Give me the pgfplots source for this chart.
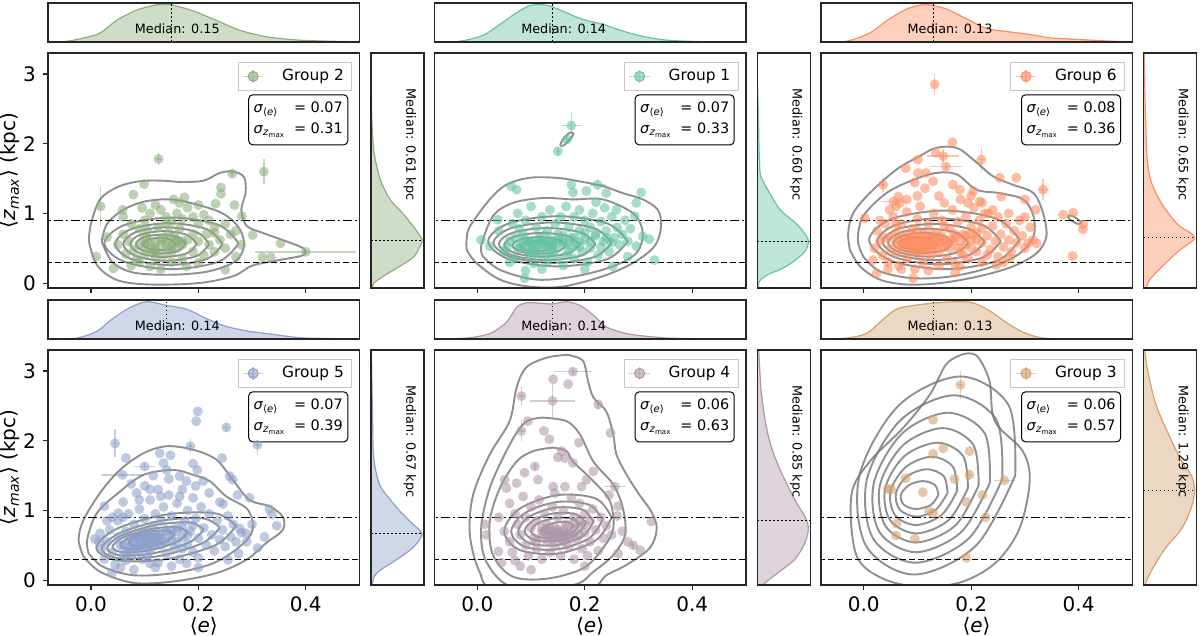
\documentclass[border=0pt]{standalone}
\usepackage{fontspec}
\setmainfont{DejaVu Sans}
\usepackage{pgfplots}
\pgfplotsset{compat=1.18}
\usepackage{pgfplotstable}

\definecolor{cA}{HTML}{8CAF7C}
\definecolor{cB}{HTML}{66C2A5}
\definecolor{cC}{HTML}{FC8D62}
\definecolor{cD}{HTML}{8DA0CB}
\definecolor{cE}{HTML}{B096A8}
\definecolor{cF}{HTML}{D2A06E}

\tikzset{
 medt/.style={font=\fontsize{6.4}{7}\selectfont, inner sep=0pt},
 sig/.style={draw=black, line width=0.5pt, rounded corners=2pt, fill=white, anchor=north east, inner xsep=2.5pt, inner ysep=3pt, font=\fontsize{7.2}{8.5}\selectfont},
}
\pgfplotsset{
 base/.style={scale only axis, anchor=south west, axis on top, axis line style={line width=0.75pt, black!85}, clip=true},
 mainax/.style={base, width=155.75pt, height=117.5pt, xmin=-0.08, xmax=0.5, ymin=-0.07, ymax=3.3,
   xtick={0,0.2,0.4}, ytick={0,1,2,3}, xticklabels={}, yticklabels={}, tick align=outside,
   major tick length=2.5pt, tick style={line width=0.6pt, black!85}, xtick pos=left, ytick pos=left,
   tick label style={font=\fontsize{10}{12}\selectfont}, label style={font=\fontsize{10}{12}\selectfont},
   every axis y label/.style={at={(axis description cs:0,0.5)}, xshift=-18.8pt, rotate=90, anchor=center},
   every axis x label/.style={at={(axis description cs:0.5,0)}, yshift=-20.5pt, anchor=center},
   legend style={at={(0.977,0.963)}, anchor=north east, draw=black!22, line width=0.5pt, font=\fontsize{7.7}{9}\selectfont, inner xsep=2pt, inner ysep=1.5pt}},
 labx/.style={xticklabels={0.0,0.2,0.4}, xlabel={⟨\textit{e}⟩}},
 laby/.style={yticklabels={0,1,2,3}, ylabel={⟨\textit{z}\textsubscript{\textit{max}}⟩ (kpc)}},
 noy/.style={ytick=\empty},
 topm/.style={base, width=155.75pt, height=19.5pt, xmin=-0.08, xmax=0.5, ymin=0, ymax=1.04, xtick=\empty, ytick=\empty},
 rightm/.style={base, width=26.5pt, height=117.5pt, xmin=0, xmax=1.04, ymin=-0.07, ymax=3.3, xtick=\empty, ytick=\empty},
 mfill/.style={no marks, smooth, fill=#1, fill opacity=0.42, draw=#1, line width=0.6pt},
 medl/.style={no marks, black, line width=0.6pt, dash pattern=on 0.8pt off 1.2pt},
 scP/.style={only marks, mark=*, mark size=2.5pt, color=#1, mark options={fill=#1, fill opacity=0.58, draw opacity=0}},
 scE/.style={only marks, mark=*, mark size=2.5pt, color=#1, mark options={fill=#1, fill opacity=0.58, draw opacity=0},
   legend image code/.code={\draw[#1, line width=0.8pt, draw opacity=0.5] (0cm,0cm) -- (0.36cm,0cm) (0.18cm,-0.12cm) -- (0.18cm,0.12cm); \fill[#1, fill opacity=0.6] (0.18cm,0cm) circle (2.5pt);},
   error bars/.cd, x dir=both, x explicit, y dir=both, y explicit, error mark=none, error bar style={#1, line width=0.8pt, draw opacity=0.5}},
 cont/.style={no marks, smooth, tension=0.55, black!55, line width=0.95pt, draw opacity=0.8},
 hda/.style={no marks, black, line width=0.6pt, dash pattern=on 4.5pt off 1.5pt on 1pt off 1.5pt},
 hds/.style={no marks, black, line width=0.6pt, dash pattern=on 3pt off 1.5pt},
}
\newcommand{\reflines}{\addplot[hda] coordinates {(-0.1,0.9) (0.6,0.9)};\addplot[hds] coordinates {(-0.1,0.3) (0.6,0.3)};}
\newcommand{\sigbox}[2]{\begin{tabular}{@{}l@{\hspace{4pt}}l@{}}\textit{σ}\textsubscript{⟨\textit{e}⟩} & = #1\\[2pt]\textit{σ}\textsubscript{\textit{z}\textsubscript{max}} & = #2\end{tabular}}

% ---------------- Group 2 ----------------
\pgfplotstableread{
x y ex ey
0.126 1.78 0.004 0.08
0.322 1.60 0.004 0.18
0.018 1.10 0.004 0.28
0.400 0.45 0.094 0.02
0.263 1.57 0.004 0.05
}\gAo
\pgfplotstableread{
x y
0.099 1.42
0.079 1.27
0.059 1.05
0.242 1.37
0.242 1.28
0.154 1.20
0.174 1.23
0.165 1.15
0.267 1.12
0.232 1.14
0.281 0.96
0.301 0.69
0.353 0.57
0.319 0.37
0.335 0.37
0.010 0.38
0.030 0.66
0.042 0.21
0.110 0.24
0.178 0.24
0.250 0.19
0.200 0.29
0.270 0.38
0.06 0.95
0.075 0.85
0.09 0.78
0.1 0.9
0.11 1.0
0.12 1.12
0.13 1.05
0.14 0.95
0.15 0.88
0.16 1.0
0.17 0.92
0.18 1.08
0.19 0.95
0.2 0.85
0.21 0.98
0.22 0.9
0.23 0.8
0.25 0.85
0.26 0.7
0.27 0.75
0.24 0.62
0.22 0.55
0.2 0.6
0.19 0.7
0.18 0.62
0.17 0.55
0.16 0.5
0.15 0.45
0.14 0.55
0.13 0.62
0.12 0.5
0.11 0.58
0.1 0.65
0.09 0.55
0.08 0.48
0.07 0.6
0.06 0.7
0.05 0.55
0.065 0.42
0.085 0.35
0.1 0.42
0.12 0.35
0.135 0.4
0.15 0.3
0.17 0.35
0.19 0.45
0.21 0.4
0.23 0.45
0.25 0.5
0.28 0.55
0.105 0.75
0.125 0.8
0.145 0.72
0.165 0.78
0.09 0.3
0.075 0.25
0.13 0.2
0.16 0.62
0.115 0.45
0.14 0.85
0.155 0.6
0.095 1.08
0.2 1.12
0.215 0.7
0.23 0.72
0.1 0.55
0.11 0.5
0.12 0.58
0.13 0.55
0.14 0.6
0.15 0.52
0.16 0.58
0.17 0.6
0.12 0.45
0.135 0.65
0.145 0.48
0.105 0.62
0.155 0.68
}\gAc

% ---------------- Group 1 ----------------
\pgfplotstableread{
x y ex ey
0.175 2.26 0.019 0.20
0.167 2.06 0.005 0.05
0.150 1.89 0.004 0.05
0.224 1.41 0.015 0.08
}\gBo
\pgfplotstableread{
x y
0.063 1.39
0.073 1.34
0.203 1.32
0.175 1.41
0.178 1.30
0.24 1.29
0.305 1.30
0.296 1.15
0.32 0.63
0.33 0.33
0.252 0.24
0.088 0.07
0.007 0.62
0.023 0.53
0.038 0.91
0.221 1.16
0.237 1.08
0.259 1.05
0.293 0.96
0.308 0.67
0.296 0.53
0.28 0.38
0.04 0.75
0.05 0.45
0.06 0.6
0.065 0.85
0.07 0.35
0.075 1.0
0.08 0.5
0.085 0.7
0.09 0.9
0.095 0.4
0.1 0.6
0.1 1.1
0.105 0.28
0.11 0.5
0.11 0.8
0.115 0.65
0.12 0.95
0.12 0.4
0.125 0.55
0.13 0.75
0.13 0.3
0.135 1.05
0.14 0.6
0.14 0.45
0.145 0.85
0.15 0.35
0.15 0.7
0.155 0.95
0.16 0.55
0.16 0.25
0.165 1.1
0.17 0.8
0.17 0.45
0.175 0.65
0.18 0.95
0.18 0.35
0.185 0.55
0.19 0.75
0.19 1.05
0.195 0.45
0.2 0.62
0.2 0.9
0.205 0.3
0.21 0.8
0.21 0.5
0.215 1.0
0.22 0.68
0.225 0.4
0.23 0.88
0.235 0.6
0.24 0.75
0.245 0.45
0.25 0.95
0.255 0.65
0.26 0.8
0.265 0.55
0.27 0.7
0.275 0.9
0.28 0.6
0.285 0.78
0.12 0.2
0.09 0.18
0.2 0.2
0.06 0.3
0.1 0.45
0.13 0.52
0.105 0.55
0.118 0.58
0.095 0.52
0.14 0.5
0.16 0.68
0.125 0.68
0.085 0.6
0.15 0.58
0.108 0.42
0.135 0.38
0.175 0.52
0.19 0.6
0.165 0.4
0.2 0.72
0.23 0.52
0.25 0.58
0.07 0.65
0.055 0.52
0.078 0.78
0.08 0.55
0.09 0.5
0.1 0.58
0.11 0.52
0.12 0.6
0.13 0.58
0.14 0.55
0.15 0.62
0.095 0.6
0.105 0.48
0.115 0.62
0.125 0.5
0.135 0.62
0.145 0.48
0.16 0.6
0.17 0.58
0.18 0.65
0.09 0.62
0.075 0.5
0.19 0.52
0.21 0.6
0.22 0.7
0.24 0.65
}\gBc

% ---------------- Group 6 ----------------
\pgfplotstableread{
x y ex ey
0.132 2.85 0.004 0.15
0.148 1.82 0.030 0.10
0.219 1.77 0.004 0.18
0.153 1.67 0.030 0.05
0.036 1.41 0.004 0.10
0.334 1.34 0.010 0.15
0.055 1.17 0.025 0.02
}\gCo
\pgfplotstableread{
x y
0.165 2.02
0.134 1.87
0.101 1.77
0.078 1.65
0.101 1.58
0.116 1.58
0.253 1.51
0.284 1.51
0.256 1.24
0.30 1.20
0.32 1.05
0.371 0.98
0.39 1.01
0.409 0.84
0.408 0.77
0.389 0.39
0.322 0.57
0.306 0.57
0.002 0.93
0.017 0.33
0.024 0.14
0.092 0.07
0.179 0.24
0.247 0.26
0.272 0.36
0.095 1.44
0.114 1.36
0.129 1.46
0.166 1.41
0.179 1.34
0.194 1.15
0.216 1.17
0.232 1.0
0.204 1.32
0.064 1.24
0.048 1.05
0.067 1.15
0.02 0.5
0.025 0.75
0.03 0.6
0.035 0.4
0.04 0.85
0.045 0.3
0.05 0.65
0.05 0.5
0.055 0.95
0.06 0.42
0.06 0.72
0.065 0.25
0.07 0.58
0.07 0.85
0.075 0.48
0.08 1.02
0.08 0.35
0.085 0.65
0.09 0.78
0.09 0.5
0.095 0.2
0.1 0.6
0.1 0.92
0.1 0.42
0.105 1.1
0.11 0.7
0.11 0.3
0.115 0.52
0.12 0.85
0.12 0.62
0.125 0.4
0.13 1.0
0.13 0.55
0.135 0.72
0.14 0.25
0.14 0.45
0.145 0.9
0.15 0.62
0.15 1.15
0.155 0.35
0.16 0.78
0.16 0.5
0.165 1.05
0.17 0.65
0.17 0.28
0.175 0.88
0.18 0.45
0.18 1.2
0.185 0.7
0.19 0.55
0.19 0.95
0.195 0.35
0.2 0.8
0.2 0.62
0.205 1.08
0.21 0.45
0.21 0.72
0.215 0.9
0.22 0.3
0.22 0.58
0.225 1.0
0.23 0.68
0.235 0.48
0.24 0.82
0.245 0.6
0.25 0.38
0.25 0.95
0.255 0.7
0.26 0.52
0.265 0.85
0.27 0.62
0.275 0.45
0.28 0.75
0.285 0.58
0.29 0.9
0.295 0.68
0.3 0.5
0.31 0.8
0.315 0.62
0.085 0.55
0.095 0.62
0.105 0.5
0.115 0.6
0.125 0.5
0.09 0.68
0.11 0.45
0.13 0.62
0.075 0.62
0.14 0.6
0.12 0.7
0.1 0.75
0.065 0.55
0.155 0.55
0.165 0.6
0.175 0.5
0.145 0.68
0.06 0.85
0.04 0.65
0.03 0.9
0.2 0.5
0.23 0.4
0.26 0.3
0.12 0.18
0.07 0.2
0.17 0.15
0.045 0.2
0.15 0.82
0.185 0.4
0.24 1.05
0.27 1.0
0.3 0.95
0.1 1.25
0.14 1.25
0.06 1.1
0.2 1.25
0.22 1.15
0.08 1.2
0.07 0.52
0.08 0.58
0.09 0.55
0.1 0.52
0.11 0.62
0.12 0.58
0.13 0.55
0.14 0.65
0.085 0.62
0.095 0.48
0.105 0.66
0.115 0.55
0.125 0.65
0.135 0.5
0.145 0.58
0.16 0.62
0.17 0.7
0.18 0.6
0.19 0.68
0.075 0.7
0.065 0.62
0.1 0.58
0.11 0.5
0.12 0.48
0.13 0.68
0.15 0.52
0.2 0.7
0.21 0.62
0.22 0.78
0.09 0.45
}\gCc

% ---------------- Group 5 ----------------
\pgfplotstableread{
x y ex ey
0.045 1.96 0.004 0.20
0.310 1.94 0.004 0.15
0.185 1.92 0.004 0.10
0.252 2.19 0.004 0.07
0.059 1.51 0.040 0.03
0.100 1.63 0.020 0.05
}\gDo
\pgfplotstableread{
x y
0.199 2.42
0.196 2.28
0.128 1.82
0.148 1.79
0.065 1.75
0.19 1.67
0.198 1.58
0.135 1.68
0.116 1.50
0.141 1.58
0.244 1.75
0.258 1.49
0.264 1.44
0.209 1.42
0.178 1.42
0.165 1.49
0.295 1.18
0.273 1.22
0.246 1.09
0.332 1.02
0.337 0.94
0.346 0.78
0.323 0.62
0.31 0.46
0.289 0.67
0.277 0.74
0.255 0.29
0.178 0.24
0.11 0.24
0.039 0.10
0.017 0.67
0.007 0.59
0.025 1.06
0.051 0.96
0.02 0.45
0.025 0.3
0.03 0.55
0.035 0.72
0.04 0.4
0.045 0.22
0.05 0.62
0.05 0.85
0.055 0.5
0.06 0.35
0.06 1.12
0.065 0.7
0.07 0.55
0.07 0.95
0.075 0.42
0.08 0.15
0.08 0.8
0.085 0.62
0.085 1.25
0.09 0.5
0.09 1.02
0.095 0.3
0.1 0.7
0.1 0.88
0.1 1.35
0.105 0.55
0.11 0.42
0.11 1.15
0.115 0.78
0.12 0.62
0.12 0.95
0.125 0.25
0.125 1.3
0.13 0.5
0.13 0.85
0.135 1.05
0.14 0.68
0.14 0.38
0.145 1.22
0.15 0.58
0.15 0.92
0.155 0.45
0.16 0.75
0.16 1.1
0.165 0.3
0.17 0.62
0.17 1.3
0.175 0.85
0.18 0.52
0.18 1.0
0.185 0.7
0.19 0.4
0.19 1.18
0.195 0.88
0.2 0.6
0.2 0.32
0.205 1.05
0.21 0.75
0.215 0.5
0.22 0.95
0.22 1.25
0.225 0.65
0.23 0.42
0.235 0.85
0.24 0.58
0.24 1.12
0.245 0.72
0.25 0.48
0.255 0.92
0.26 0.62
0.265 0.8
0.27 0.55
0.275 0.38
0.28 0.68
0.29 0.55
0.3 0.8
0.07 0.62
0.08 0.52
0.09 0.6
0.1 0.5
0.11 0.6
0.12 0.55
0.095 0.68
0.105 0.62
0.115 0.5
0.13 0.65
0.085 0.45
0.075 0.35
0.065 0.28
0.105 0.35
0.14 0.55
0.15 0.72
0.16 0.55
0.17 0.45
0.055 0.18
0.04 0.9
0.03 0.85
0.015 0.55
0.12 0.18
0.15 0.2
0.2 0.18
0.06 0.9
0.09 1.15
0.13 1.2
0.165 1.2
0.195 1.35
0.075 1.38
0.145 1.45
0.11 1.3
0.06 0.5
0.07 0.45
0.08 0.58
0.09 0.55
0.1 0.6
0.11 0.65
0.12 0.68
0.13 0.6
0.14 0.72
0.08 0.45
0.1 0.55
0.115 0.58
0.125 0.62
0.09 0.42
0.105 0.48
0.135 0.55
0.15 0.65
0.16 0.7
0.17 0.75
0.065 0.4
0.095 0.65
0.12 0.5
0.18 0.65
0.19 0.78
}\gDc

% ---------------- Group 4 ----------------
\pgfplotstableread{
x y ex ey
0.178 2.99 0.035 0.05
0.082 2.64 0.004 0.15
0.082 2.14 0.004 0.15
0.140 2.57 0.042 0.24
0.225 2.52 0.004 0.07
0.107 1.63 0.004 0.05
0.256 1.34 0.020 0.02
0.290 0.50 0.004 0.05
}\gEo
\pgfplotstableread{
x y
0.169 2.81
0.141 2.88
0.094 2.28
0.124 2.14
0.134 2.02
0.189 1.97
0.248 2.11
0.157 1.85
0.163 1.75
0.15 1.76
0.178 1.68
0.088 1.54
0.113 1.44
0.051 1.44
0.054 1.32
0.073 1.39
0.216 1.56
0.203 1.44
0.262 1.06
0.245 1.22
0.324 0.84
0.303 0.43
0.262 0.38
0.014 0.80
0.017 0.65
0.039 0.41
0.141 1.34
0.144 1.25
0.163 1.34
0.194 1.34
0.175 1.18
0.06 1.1
0.07 0.95
0.075 0.8
0.08 0.65
0.085 1.2
0.09 0.5
0.09 0.9
0.095 0.35
0.1 0.75
0.1 1.05
0.105 0.6
0.11 0.85
0.11 0.45
0.115 1.15
0.12 0.7
0.12 0.3
0.125 0.95
0.13 0.55
0.13 0.8
0.135 0.4
0.14 1.05
0.14 0.65
0.145 0.5
0.15 0.9
0.15 0.72
0.155 0.35
0.16 0.6
0.16 1.0
0.165 0.8
0.17 0.48
0.175 0.68
0.18 0.9
0.18 0.3
0.185 0.58
0.19 0.78
0.19 1.1
0.195 0.45
0.2 0.68
0.2 0.95
0.205 0.35
0.21 0.85
0.21 0.55
0.215 1.02
0.22 0.72
0.225 0.42
0.23 0.9
0.235 0.6
0.24 0.78
0.25 0.65
0.26 0.92
0.27 0.7
0.28 0.55
0.12 0.62
0.13 0.65
0.14 0.58
0.15 0.62
0.16 0.55
0.125 0.7
0.135 0.75
0.145 0.62
0.155 0.68
0.165 0.62
0.11 0.55
0.17 0.62
0.18 0.72
0.19 0.65
0.06 0.55
0.065 0.4
0.07 0.28
0.05 0.7
0.08 0.2
0.1 0.15
0.2 0.2
0.04 0.9
0.045 0.25
0.12 0.75
0.13 0.72
0.14 0.7
0.15 0.68
0.16 0.72
0.17 0.78
0.18 0.82
0.19 0.85
0.2 0.8
0.135 0.62
0.145 0.75
0.155 0.6
0.165 0.68
0.175 0.62
}\gEc

% ---------------- Group 3 ----------------
\pgfplotstableread{
x y ex ey
0.180 2.80 0.004 0.20
0.197 1.51 0.004 0.08
0.262 1.43 0.020 0.02
}\gFo
\pgfplotstableread{
x y
0.129 2.30
0.148 1.89
0.129 1.81
0.197 1.85
0.169 1.45
0.078 1.46
0.045 1.31
0.051 1.30
0.11 1.26
0.221 1.22
0.191 1.12
0.122 0.99
0.129 0.96
0.227 0.90
0.061 0.81
0.06 0.64
0.095 0.59
0.191 0.32
}\gFc

\begin{document}
\begin{tikzpicture}
\useasboundingbox (0,0) rectangle (600pt,318pt);

% ===== Panel Group 2 (row 1, col 1) =====
\begin{axis}[topm, at={(24pt,297pt)}]
\addplot[mfill=cA] coordinates {(-0.08,0.005) (-0.044,0.02) (-0.01,0.12) (0.017,0.24) (0.048,0.58) (0.07,0.75) (0.091,0.88) (0.122,0.99) (0.14,1.0) (0.153,0.98) (0.19,0.83) (0.233,0.58) (0.276,0.32) (0.326,0.14) (0.387,0.05) (0.449,0.02) (0.5,0.005)} \closedcycle;
\addplot[medl] coordinates {(0.15,0) (0.15,1.1)};
\node[medt] at (rel axis cs:0.415,0.34) {Median: 0.15};
\end{axis}
\begin{axis}[rightm, at={(185.6pt,174pt)}]
\addplot[mfill=cA] coordinates {(0,-0.07) (0.02,-0.07) (0.05,0.0) (0.24,0.1) (0.56,0.24) (0.84,0.38) (0.97,0.55) (1.0,0.62) (0.87,0.77) (0.62,1.0) (0.37,1.2) (0.18,1.48) (0.08,1.77) (0.05,1.9) (0.02,2.2) (0.005,2.6) (0.0,3.3)};
\addplot[medl] coordinates {(0,0.61) (1.1,0.61)};
\node[medt, rotate=-90] at (rel axis cs:0.73,0.61) {Median: 0.61 kpc};
\end{axis}
\begin{axis}[mainax, laby, at={(24pt,174pt)}]
\addplot[scE=cA] table[x=x, y=y, x error=ex, y error=ey] {\gAo}; \addlegendentry{\hspace{7pt}Group 2}
\addplot[scP=cA] table {\gAc};
\addplot[cont] coordinates {(-0.004,0.60) (0.0,0.85) (0.017,1.2) (0.05,1.38) (0.09,1.46) (0.13,1.47) (0.17,1.45) (0.21,1.47) (0.24,1.58) (0.265,1.60) (0.285,1.52) (0.288,1.30) (0.28,1.05) (0.29,0.82) (0.32,0.72) (0.356,0.62) (0.395,0.50) (0.395,0.40) (0.35,0.33) (0.30,0.25) (0.265,0.10) (0.2,0.0) (0.11,-0.02) (0.05,0.04) (0.012,0.25) (-0.004,0.60)};
\addplot[cont] coordinates {(0.02,0.6) (0.03,0.85) (0.06,1.05) (0.1,1.17) (0.15,1.2) (0.2,1.12) (0.245,1.0) (0.275,0.8) (0.285,0.55) (0.27,0.32) (0.22,0.17) (0.15,0.12) (0.08,0.15) (0.04,0.3) (0.02,0.6)};
\addplot[cont] coordinates {(0.275,0.57) (0.238,0.832) (0.15,0.94) (0.062,0.832) (0.025,0.57) (0.062,0.308) (0.15,0.20) (0.238,0.308) (0.275,0.57)};
\addplot[cont] coordinates {(0.245,0.56) (0.216,0.772) (0.145,0.86) (0.074,0.772) (0.045,0.56) (0.074,0.348) (0.145,0.26) (0.216,0.348) (0.245,0.56)};
\addplot[cont] coordinates {(0.22,0.56) (0.197,0.73) (0.14,0.80) (0.083,0.73) (0.06,0.56) (0.083,0.39) (0.14,0.32) (0.197,0.39) (0.22,0.56)};
\addplot[cont] coordinates {(0.197,0.56) (0.179,0.691) (0.135,0.745) (0.091,0.691) (0.073,0.56) (0.091,0.429) (0.135,0.375) (0.179,0.429) (0.197,0.56)};
\addplot[cont] coordinates {(0.176,0.56) (0.163,0.655) (0.13,0.695) (0.097,0.655) (0.084,0.56) (0.097,0.465) (0.13,0.425) (0.163,0.465) (0.176,0.56)};
\addplot[cont] coordinates {(0.157,0.56) (0.148,0.624) (0.127,0.65) (0.106,0.624) (0.097,0.56) (0.106,0.496) (0.127,0.47) (0.148,0.496) (0.157,0.56)};
\reflines
\node[sig] at (rel axis cs:0.964,0.824) {\sigbox{0.07}{0.31}};
\end{axis}

% ===== Panel Group 1 (row 1, col 2) =====
\begin{axis}[topm, at={(217.2pt,297pt)}]
\addplot[mfill=cB] coordinates {(-0.08,0.005) (-0.033,0.02) (0.011,0.18) (0.042,0.47) (0.073,0.78) (0.097,0.97) (0.11,1.0) (0.135,0.96) (0.166,0.78) (0.197,0.6) (0.234,0.47) (0.271,0.29) (0.308,0.15) (0.352,0.05) (0.414,0.01) (0.5,0.002)} \closedcycle;
\addplot[medl] coordinates {(0.14,0) (0.14,1.1)};
\node[medt] at (rel axis cs:0.415,0.34) {Median: 0.14};
\end{axis}
\begin{axis}[rightm, at={(378.7pt,174pt)}]
\addplot[mfill=cB] coordinates {(0,-0.07) (0.01,-0.07) (0.04,0.03) (0.2,0.12) (0.43,0.19) (0.67,0.29) (0.93,0.45) (1.0,0.6) (0.92,0.72) (0.75,0.86) (0.45,1.05) (0.24,1.29) (0.1,1.48) (0.05,1.6) (0.03,2.0) (0.02,2.4) (0.005,2.8) (0,3.3)};
\addplot[medl] coordinates {(0,0.60) (1.1,0.60)};
\node[medt, rotate=-90] at (rel axis cs:0.73,0.61) {Median: 0.60 kpc};
\end{axis}
\begin{axis}[mainax, noy, at={(217.2pt,174pt)}]
\addplot[scE=cB] table[x=x, y=y, x error=ex, y error=ey] {\gBo}; \addlegendentry{\hspace{7pt}Group 1}
\addplot[scP=cB] table {\gBc};
\addplot[cont] coordinates {(-0.02,0.48) (-0.02,0.62) (-0.014,0.81) (0.023,1.20) (0.054,1.41) (0.097,1.51) (0.147,1.51) (0.19,1.46) (0.234,1.39) (0.271,1.29) (0.308,1.20) (0.336,1.05) (0.342,0.81) (0.33,0.53) (0.29,0.29) (0.234,0.10) (0.159,-0.05) (0.097,-0.05) (0.042,0.05) (-0.002,0.29) (-0.02,0.48)};
\addplot[cont] coordinates {(0.011,0.38) (0.007,0.53) (0.029,0.96) (0.066,1.15) (0.122,1.22) (0.178,1.20) (0.234,1.20) (0.29,1.0) (0.308,0.72) (0.296,0.43) (0.252,0.24) (0.184,0.10) (0.11,0.05) (0.042,0.19) (0.011,0.38)};
\addplot[cont] coordinates {(0.28,0.6) (0.242,0.855) (0.15,0.96) (0.058,0.855) (0.02,0.6) (0.058,0.345) (0.15,0.24) (0.242,0.345) (0.28,0.6)};
\addplot[cont] coordinates {(0.25,0.58) (0.218,0.785) (0.14,0.87) (0.062,0.785) (0.03,0.58) (0.062,0.375) (0.14,0.29) (0.218,0.375) (0.25,0.58)};
\addplot[cont] coordinates {(0.22,0.56) (0.194,0.723) (0.13,0.79) (0.066,0.723) (0.04,0.56) (0.066,0.397) (0.13,0.33) (0.194,0.397) (0.22,0.56)};
\addplot[cont] coordinates {(0.19,0.55) (0.17,0.67) (0.12,0.72) (0.07,0.67) (0.05,0.55) (0.07,0.43) (0.12,0.38) (0.17,0.43) (0.19,0.55)};
\addplot[cont] coordinates {(0.165,0.54) (0.15,0.625) (0.115,0.66) (0.08,0.625) (0.065,0.54) (0.08,0.455) (0.115,0.42) (0.15,0.455) (0.165,0.54)};
\addplot[cont] coordinates {(0.14,0.53) (0.131,0.583) (0.11,0.605) (0.089,0.583) (0.08,0.53) (0.089,0.477) (0.11,0.455) (0.131,0.477) (0.14,0.53)};
\addplot[cont] coordinates {(0.154,1.98) (0.160,1.97) (0.172,2.06) (0.179,2.14) (0.173,2.16) (0.161,2.08) (0.154,1.98)};
\reflines
\node[sig] at (rel axis cs:0.964,0.824) {\sigbox{0.07}{0.33}};
\end{axis}

% ===== Panel Group 6 (row 1, col 3) =====
\begin{axis}[topm, at={(410.4pt,297pt)}]
\addplot[mfill=cC] coordinates {(-0.08,0.005) (-0.032,0.02) (0.011,0.24) (0.048,0.62) (0.08,0.88) (0.104,0.98) (0.115,1.0) (0.126,0.98) (0.154,0.88) (0.191,0.62) (0.229,0.36) (0.266,0.28) (0.309,0.2) (0.347,0.11) (0.384,0.08) (0.421,0.05) (0.465,0.02) (0.5,0.01)} \closedcycle;
\addplot[medl] coordinates {(0.13,0) (0.13,1.1)};
\node[medt] at (rel axis cs:0.415,0.34) {Median: 0.13};
\end{axis}
\begin{axis}[rightm, at={(571.8pt,174pt)}]
\addplot[mfill=cC] coordinates {(0,-0.07) (0.05,-0.07) (0.12,0.05) (0.37,0.24) (0.67,0.45) (0.95,0.6) (1.0,0.65) (0.92,0.72) (0.67,0.84) (0.37,1.12) (0.18,1.39) (0.1,1.6) (0.06,1.9) (0.03,2.6) (0.02,3.0) (0.01,3.3) (0,3.3)};
\addplot[medl] coordinates {(0,0.65) (1.1,0.65)};
\node[medt, rotate=-90] at (rel axis cs:0.73,0.61) {Median: 0.65 kpc};
\end{axis}
\begin{axis}[mainax, noy, at={(410.4pt,174pt)}]
\addplot[scE=cC] table[x=x, y=y, x error=ex, y error=ey] {\gCo}; \addlegendentry{\hspace{7pt}Group 6}
\addplot[scP=cC] table {\gCc};
\addplot[cont] coordinates {(-0.026,0.48) (-0.029,0.72) (-0.02,1.0) (0.011,1.29) (0.061,1.63) (0.104,1.82) (0.135,1.94) (0.173,1.94) (0.204,1.77) (0.241,1.53) (0.278,1.41) (0.316,1.29) (0.334,1.0) (0.34,0.67) (0.322,0.43) (0.278,0.24) (0.216,0.10) (0.142,0.0) (0.08,-0.02) (0.03,0.05) (-0.007,0.24) (-0.026,0.48)};
\addplot[cont] coordinates {(-0.001,0.38) (-0.011,0.62) (-0.001,0.96) (0.042,1.29) (0.092,1.48) (0.135,1.58) (0.173,1.56) (0.21,1.34) (0.253,1.29) (0.297,1.20) (0.316,0.96) (0.316,0.67) (0.291,0.43) (0.241,0.24) (0.166,0.10) (0.092,0.07) (0.03,0.17) (-0.001,0.38)};
\addplot[cont] coordinates {(0.29,0.62) (0.249,0.917) (0.15,1.04) (0.051,0.917) (0.01,0.62) (0.051,0.323) (0.15,0.20) (0.249,0.323) (0.29,0.62)};
\addplot[cont] coordinates {(0.255,0.6) (0.221,0.833) (0.14,0.93) (0.059,0.833) (0.025,0.6) (0.059,0.367) (0.14,0.27) (0.221,0.367) (0.255,0.6)};
\addplot[cont] coordinates {(0.225,0.59) (0.197,0.774) (0.13,0.85) (0.063,0.774) (0.035,0.59) (0.063,0.406) (0.13,0.33) (0.197,0.406) (0.225,0.59)};
\addplot[cont] coordinates {(0.195,0.58) (0.173,0.721) (0.12,0.78) (0.067,0.721) (0.045,0.58) (0.067,0.439) (0.12,0.38) (0.173,0.439) (0.195,0.58)};
\addplot[cont] coordinates {(0.165,0.575) (0.149,0.678) (0.11,0.72) (0.071,0.678) (0.055,0.575) (0.071,0.473) (0.11,0.43) (0.149,0.473) (0.165,0.575)};
\addplot[cont] coordinates {(0.135,0.57) (0.125,0.634) (0.1,0.66) (0.075,0.634) (0.065,0.57) (0.075,0.506) (0.1,0.48) (0.125,0.506) (0.135,0.57)};
\addplot[cont] coordinates {(0.38,0.95) (0.382,0.97) (0.392,0.95) (0.405,0.87) (0.398,0.85) (0.386,0.9) (0.38,0.95)};
\reflines
\node[sig] at (rel axis cs:0.964,0.824) {\sigbox{0.08}{0.36}};
\end{axis}

% ===== Panel Group 5 (row 2, col 1) =====
\begin{axis}[topm, at={(24pt,148.4pt)}]
\addplot[mfill=cD] coordinates {(-0.08,0.005) (-0.026,0.03) (0.011,0.21) (0.036,0.5) (0.067,0.8) (0.09,0.95) (0.105,1.0) (0.12,0.97) (0.141,0.9) (0.178,0.8) (0.215,0.55) (0.252,0.34) (0.295,0.21) (0.338,0.13) (0.388,0.04) (0.437,0.02) (0.5,0.005)} \closedcycle;
\addplot[medl] coordinates {(0.14,0) (0.14,1.1)};
\node[medt] at (rel axis cs:0.415,0.34) {Median: 0.14};
\end{axis}
\begin{axis}[rightm, at={(185.6pt,25.5pt)}]
\addplot[mfill=cD] coordinates {(0,-0.07) (0.02,-0.07) (0.06,0.05) (0.17,0.14) (0.45,0.27) (0.81,0.46) (1.0,0.66) (0.82,0.8) (0.55,1.0) (0.3,1.22) (0.17,1.36) (0.08,1.6) (0.04,1.85) (0.03,2.2) (0.02,2.6) (0.01,3.0) (0.005,3.3) (0,3.3)};
\addplot[medl] coordinates {(0,0.67) (1.1,0.67)};
\node[medt, rotate=-90] at (rel axis cs:0.73,0.61) {Median: 0.67 kpc};
\end{axis}
\begin{axis}[mainax, laby, labx, at={(24pt,25.5pt)}]
\addplot[scE=cD] table[x=x, y=y, x error=ex, y error=ey] {\gDo}; \addlegendentry{\hspace{7pt}Group 5}
\addplot[scP=cD] table {\gDc};
\addplot[cont] coordinates {(-0.014,0.34) (-0.023,0.58) (-0.014,0.86) (0.017,1.25) (0.054,1.58) (0.098,1.82) (0.141,1.92) (0.19,1.87) (0.233,1.73) (0.264,1.44) (0.295,1.15) (0.332,1.06) (0.357,0.91) (0.357,0.72) (0.326,0.53) (0.289,0.29) (0.233,0.10) (0.153,-0.02) (0.079,-0.04) (0.017,0.12) (-0.014,0.34)};
\addplot[cont] coordinates {(-0.004,0.38) (-0.007,0.58) (0.011,0.96) (0.054,1.27) (0.098,1.51) (0.153,1.58) (0.19,1.51) (0.221,1.42) (0.252,1.20) (0.292,1.01) (0.301,0.72) (0.277,0.48) (0.227,0.24) (0.153,0.10) (0.079,0.07) (0.023,0.19) (-0.004,0.38)};
\addplot[cont] coordinates {(0.27,0.776) (0.232,0.957) (0.14,0.94) (0.048,0.736) (0.01,0.464) (0.048,0.284) (0.14,0.30) (0.232,0.504) (0.27,0.776)};
\addplot[cont] coordinates {(0.24,0.754) (0.208,0.886) (0.13,0.85) (0.052,0.668) (0.02,0.446) (0.052,0.314) (0.13,0.35) (0.208,0.532) (0.24,0.754)};
\addplot[cont] coordinates {(0.21,0.725) (0.184,0.827) (0.12,0.79) (0.056,0.636) (0.03,0.455) (0.056,0.353) (0.12,0.39) (0.184,0.544) (0.21,0.725)};
\addplot[cont] coordinates {(0.18,0.685) (0.16,0.760) (0.11,0.73) (0.06,0.612) (0.04,0.475) (0.06,0.400) (0.11,0.43) (0.16,0.548) (0.18,0.685)};
\addplot[cont] coordinates {(0.155,0.655) (0.14,0.711) (0.105,0.69) (0.07,0.605) (0.055,0.505) (0.07,0.449) (0.105,0.47) (0.14,0.555) (0.155,0.655)};
\addplot[cont] coordinates {(0.13,0.62) (0.121,0.656) (0.1,0.645) (0.079,0.593) (0.07,0.53) (0.079,0.494) (0.1,0.505) (0.121,0.557) (0.13,0.62)};
\reflines
\node[sig] at (rel axis cs:0.964,0.824) {\sigbox{0.07}{0.39}};
\end{axis}

% ===== Panel Group 4 (row 2, col 2) =====
\begin{axis}[topm, at={(217.2pt,148.4pt)}]
\addplot[mfill=cE] coordinates {(-0.08,0.005) (-0.02,0.03) (0.023,0.15) (0.054,0.45) (0.073,0.85) (0.091,0.97) (0.116,0.96) (0.141,0.94) (0.166,1.0) (0.191,0.9) (0.216,0.64) (0.24,0.33) (0.278,0.15) (0.327,0.06) (0.377,0.02) (0.5,0.003)} \closedcycle;
\addplot[medl] coordinates {(0.14,0) (0.14,1.1)};
\node[medt] at (rel axis cs:0.415,0.34) {Median: 0.14};
\end{axis}
\begin{axis}[rightm, at={(378.7pt,25.5pt)}]
\addplot[mfill=cE] coordinates {(0,-0.07) (0.1,-0.07) (0.18,-0.02) (0.43,0.12) (0.75,0.31) (0.94,0.55) (1.0,0.74) (0.94,0.9) (0.75,1.13) (0.49,1.51) (0.3,1.85) (0.18,2.18) (0.08,2.66) (0.04,3.1) (0.025,3.3) (0,3.3)};
\addplot[medl] coordinates {(0,0.85) (1.1,0.85)};
\node[medt, rotate=-90] at (rel axis cs:0.73,0.61) {Median: 0.85 kpc};
\end{axis}
\begin{axis}[mainax, noy, labx, at={(217.2pt,25.5pt)}]
\addplot[scE=cE] table[x=x, y=y, x error=ex, y error=ey] {\gEo}; \addlegendentry{\hspace{7pt}Group 4}
\addplot[scP=cE] table {\gEc};
\addplot[cont] coordinates {(0.166,3.23) (0.175,3.22) (0.197,3.14) (0.206,2.86) (0.216,2.62) (0.24,2.42) (0.253,2.09) (0.259,1.80) (0.278,1.51) (0.302,1.22) (0.324,0.98) (0.334,0.74) (0.321,0.46) (0.278,0.22) (0.24,0.07) (0.203,-0.12) (0.035,-0.12) (0.004,0.12) (-0.014,0.65) (-0.008,1.22) (0.023,1.80) (0.06,2.28) (0.073,2.76) (0.091,3.05) (0.129,3.19) (0.166,3.23)};
\addplot[cont] coordinates {(0.122,2.33) (0.166,2.28) (0.191,2.09) (0.216,1.70) (0.253,1.37) (0.271,1.03) (0.275,0.65) (0.253,0.36) (0.216,0.12) (0.178,-0.07) (0.066,-0.1) (0.017,0.26) (0.007,0.74) (0.023,1.32) (0.054,1.85) (0.079,2.18) (0.098,2.30) (0.122,2.33)};
\addplot[cont] coordinates {(0.141,1.90) (0.166,1.85) (0.178,1.70) (0.216,1.42) (0.247,1.13) (0.253,0.74) (0.234,0.46) (0.197,0.17) (0.129,0.02) (0.066,0.05) (0.029,0.36) (0.023,0.84) (0.042,1.32) (0.073,1.70) (0.104,1.85) (0.141,1.90)};
\addplot[cont] coordinates {(0.25,0.9) (0.221,1.168) (0.15,1.22) (0.079,1.026) (0.05,0.7) (0.079,0.432) (0.15,0.38) (0.221,0.574) (0.25,0.9)};
\addplot[cont] coordinates {(0.233,0.865) (0.208,1.081) (0.148,1.12) (0.088,0.960) (0.063,0.695) (0.088,0.480) (0.148,0.44) (0.208,0.600) (0.233,0.865)};
\addplot[cont] coordinates {(0.216,0.84) (0.196,1.010) (0.146,1.04) (0.097,0.911) (0.076,0.70) (0.097,0.530) (0.146,0.50) (0.196,0.629) (0.216,0.84)};
\addplot[cont] coordinates {(0.202,0.817) (0.185,0.942) (0.145,0.96) (0.105,0.861) (0.088,0.703) (0.105,0.578) (0.145,0.56) (0.185,0.659) (0.202,0.817)};
\addplot[cont] coordinates {(0.19,0.795) (0.177,0.881) (0.145,0.89) (0.113,0.817) (0.10,0.705) (0.113,0.619) (0.145,0.61) (0.177,0.683) (0.19,0.795)};
\addplot[cont] coordinates {(0.18,0.78) (0.171,0.828) (0.15,0.83) (0.129,0.785) (0.12,0.72) (0.129,0.672) (0.15,0.67) (0.171,0.715) (0.18,0.78)};
\reflines
\node[sig] at (rel axis cs:0.964,0.824) {\sigbox{0.06}{0.63}};
\end{axis}

% ===== Panel Group 3 (row 2, col 3) =====
\begin{axis}[topm, at={(410.4pt,148.4pt)}]
\addplot[mfill=cF] coordinates {(-0.08,0.005) (-0.032,0.03) (0.005,0.15) (0.03,0.45) (0.061,0.8) (0.098,0.91) (0.129,0.96) (0.172,1.0) (0.203,0.97) (0.234,0.76) (0.265,0.45) (0.296,0.19) (0.334,0.03) (0.4,0.005) (0.5,0.0)} \closedcycle;
\addplot[medl] coordinates {(0.13,0) (0.13,1.1)};
\node[medt] at (rel axis cs:0.415,0.34) {Median: 0.13};
\end{axis}
\begin{axis}[rightm, at={(571.8pt,25.5pt)}]
\addplot[mfill=cF] coordinates {(0,-0.07) (0.03,-0.07) (0.05,-0.02) (0.18,0.17) (0.43,0.46) (0.75,0.74) (0.94,1.05) (1.0,1.29) (0.94,1.5) (0.75,1.7) (0.49,2.09) (0.24,2.52) (0.08,3.0) (0.02,3.3) (0,3.3)};
\addplot[medl] coordinates {(0,1.29) (1.1,1.29)};
\node[medt, rotate=-90] at (rel axis cs:0.73,0.61) {Median: 1.29 kpc};
\end{axis}
\begin{axis}[mainax, noy, labx, at={(410.4pt,25.5pt)}]
\addplot[scE=cF] table[x=x, y=y, x error=ex, y error=ey] {\gFo}; \addlegendentry{\hspace{7pt}Group 3}
\addplot[scP=cF] table {\gFc};
\addplot[cont] coordinates {(0.185,3.24) (0.21,3.22) (0.234,2.86) (0.244,2.28) (0.296,1.85) (0.309,1.42) (0.29,0.74) (0.247,0.26) (0.185,-0.02) (0.11,-0.1) (0.036,0.02) (-0.014,0.36) (-0.023,1.22) (0.011,1.70) (0.073,2.18) (0.123,2.66) (0.154,3.10) (0.185,3.24)};
\addplot[cont] coordinates {(0.282,1.5) (0.270,2.504) (0.180,2.92) (0.065,2.504) (-0.008,1.5) (0.004,0.496) (0.094,0.08) (0.209,0.496) (0.282,1.5)};
\addplot[cont] coordinates {(0.258,1.45) (0.247,2.298) (0.168,2.65) (0.069,2.298) (0.006,1.45) (0.017,0.602) (0.096,0.25) (0.196,0.602) (0.258,1.45)};
\addplot[cont] coordinates {(0.235,1.4) (0.225,2.107) (0.157,2.4) (0.072,2.107) (0.019,1.4) (0.029,0.693) (0.097,0.4) (0.182,0.693) (0.235,1.4)};
\addplot[cont] coordinates {(0.214,1.36) (0.204,1.94) (0.147,2.18) (0.074,1.94) (0.03,1.36) (0.04,0.78) (0.097,0.54) (0.17,0.78) (0.214,1.36)};
\addplot[cont] coordinates {(0.194,1.32) (0.185,1.78) (0.137,1.97) (0.076,1.78) (0.04,1.32) (0.049,0.86) (0.098,0.67) (0.158,0.86) (0.194,1.32)};
\addplot[cont] coordinates {(0.174,1.28) (0.166,1.626) (0.127,1.77) (0.079,1.626) (0.05,1.28) (0.058,0.934) (0.097,0.79) (0.145,0.934) (0.174,1.28)};
\addplot[cont] coordinates {(0.156,1.25) (0.149,1.49) (0.118,1.59) (0.081,1.49) (0.06,1.25) (0.067,1.01) (0.098,0.91) (0.134,1.01) (0.156,1.25)};
\addplot[cont] coordinates {(0.139,1.22) (0.133,1.361) (0.11,1.42) (0.084,1.361) (0.069,1.22) (0.075,1.079) (0.098,1.02) (0.125,1.079) (0.139,1.22)};
\reflines
\node[sig] at (rel axis cs:0.964,0.824) {\sigbox{0.06}{0.57}};
\end{axis}

\end{tikzpicture}
\end{document}
